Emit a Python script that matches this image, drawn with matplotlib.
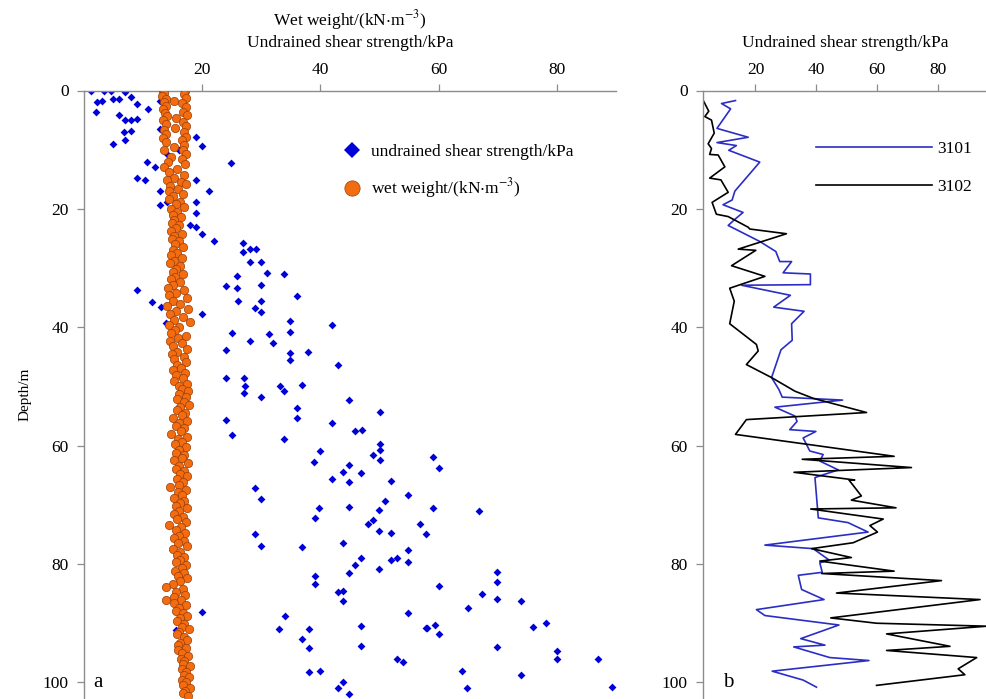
import matplotlib
matplotlib.use("Agg")
import matplotlib.pyplot as plt
from matplotlib.lines import Line2D

# ---- panel a: undrained shear strength (blue diamonds) ----
su_value = [
    1.2, 3.4, 4.5, 7.0, 3.1, 2.2, 4.9, 5.9, 7.9, 9.0, 2.0, 5.9, 7.0, 7.9, 9.0, 10.9, 12.9,
    6.7, 7.9, 6.9, 4.9, 12.9, 14.0, 18.9, 20.0, 14.0, 16.0, 24.9, 10.6, 12.0, 9.0, 10.4,
    12.9, 18.9, 21.1, 12.9, 14.0, 18.9, 18.9, 18.0, 19.0, 20.0, 22.0, 26.9, 26.9, 28.0, 29.1,
    28.0, 30.0, 30.9, 33.9, 25.9, 8.9, 11.5, 13.0, 24.0, 25.9, 30.0, 36.0, 26.0, 30.0, 28.9,
    30.0, 20.0, 13.8, 34.9, 42.0, 25.0, 28.0, 31.3, 32.0, 34.9, 24.0, 34.9, 34.9, 37.9, 43.0,
    24.0, 27.0, 27.2, 27.0, 33.1, 33.9, 36.9, 30.0, 44.9, 36.0, 36.0, 24.0, 42.0, 45.9, 47.0,
    25.0, 33.9, 39.9, 38.9, 44.9,
    50.0, 50.0, 50.0, 48.9, 50.0, 59.0, 60.0,
    43.9, 46.9, 42.0, 44.9, 51.9, 54.8, 29.0, 30.0, 39.8, 39.0, 44.9, 50.9, 49.9, 48.0, 48.9,
    49.9, 51.9, 56.9, 57.9, 29.0, 30.0, 36.9, 43.9, 46.9, 45.9, 44.9, 51.9, 52.9, 49.9, 54.8,
    54.8, 39.0, 39.0, 42.9, 43.9, 43.9, 20.0, 34.0, 33.0, 38.0, 36.9, 38.0, 46.9, 46.9, 54.8,
    57.9, 52.9, 53.9, 38.0, 40.0, 43.9, 42.9, 44.9,
    59.0, 66.8, 60.0, 69.9, 69.9, 67.4, 69.9, 73.9, 64.9, 58.0, 59.3, 60.0, 75.9, 78.2, 69.9,
    80.0, 80.0, 86.9, 64.0, 73.9, 64.8, 89.4, 15.5,
]
su_depth = [
    0.0, 0.0, 0.0, 0.2, 1.8, 1.9, 1.4, 1.4, 1.1, 2.3, 3.7, 4.1, 5.0, 5.0, 4.8, 3.1, 1.7,
    7.0, 6.8, 8.3, 9.1, 6.5, 5.7, 7.9, 9.3, 10.8, 10.1, 12.2, 12.1, 12.9, 14.8, 15.2,
    16.9, 15.1, 16.9, 19.3, 18.9, 18.8, 20.7, 22.7, 23.1, 24.2, 25.4, 25.7, 27.2, 26.8, 26.8,
    29.0, 29.0, 30.8, 31.0, 31.3, 33.7, 35.7, 36.6, 33.0, 33.3, 32.9, 34.7, 35.6, 35.6, 36.8,
    37.4, 37.8, 39.2, 38.9, 39.7, 41.0, 42.3, 41.1, 42.7, 40.8, 43.9, 44.3, 45.5, 44.1, 46.3,
    48.6, 48.5, 50.0, 51.1, 49.9, 50.7, 49.8, 51.8, 52.3, 53.6, 55.4, 55.7, 56.1, 57.5, 57.4,
    58.2, 58.9, 60.9, 62.8, 63.3,
    54.3, 59.7, 60.7, 61.5, 62.4, 61.9, 63.7,
    64.4, 64.6, 65.6, 66.2, 65.9, 68.4, 67.1, 69.0, 70.6, 72.2, 70.4, 69.3, 70.8, 73.2, 72.5,
    74.5, 74.7, 73.3, 74.9, 74.9, 77.0, 77.1, 76.5, 79.0, 80.2, 81.5, 79.4, 79.0, 80.9, 77.6,
    79.6, 82.0, 83.4, 84.8, 84.5, 86.3, 88.1, 88.8, 90.9, 90.9, 92.7, 94.2, 90.4, 93.8, 88.3,
    90.8, 96.0, 96.5, 98.2, 98.0, 100.0, 101.0, 102.0,
    70.5, 71.0, 83.7, 81.3, 83.1, 85.1, 85.9, 86.3, 87.5, 90.8, 90.3, 91.9, 90.7, 90.0, 94.0,
    94.7, 96.0, 96.1, 98.1, 98.8, 101.0, 100.8, 91.2,
]

# ---- panel a: wet weight (orange circles) ----
wet_value = [
    13.3, 17.1, 13.6, 16.9, 13.2, 17.2, 13.8, 15.3, 13.5, 16.6, 13.9, 17.3, 13.4, 16.8, 13.7,
    17.4, 14.0, 15.6, 13.3, 16.7, 13.8, 17.2, 15.4, 13.5, 16.9, 13.9, 17.3, 13.4, 16.6, 13.8,
    17.0, 15.2, 13.6, 16.8,
    17.3, 14.8, 16.5, 14.2, 17.1, 13.6, 15.8, 14.4, 16.9, 15.3, 14.1, 16.4, 17.2, 14.6, 15.9,
    14.3, 16.8, 15.0, 14.4, 16.2, 15.5, 16.9, 14.7,
    15.8, 15.0, 16.4, 15.3, 14.9, 16.1, 15.5, 14.8, 16.6, 15.2, 14.9, 16.0, 15.4, 16.7, 15.0,
    15.8, 14.8, 16.5, 15.3, 14.6, 16.2, 15.6, 15.0, 16.8, 15.4, 14.7, 16.3,
    15.1, 14.2, 16.9, 15.6, 14.4, 17.4, 15.0, 16.2, 14.0, 17.6, 15.5, 14.6, 16.8, 15.2, 17.9,
    14.3, 16.1, 15.4, 14.8, 17.2, 15.9, 14.5, 16.6, 15.1, 17.5, 15.7, 14.9, 16.9, 15.3, 17.3,
    15.8, 16.4, 15.0, 17.1, 15.6, 16.7, 15.2, 17.4, 16.0,
    16.5, 17.6, 16.0, 17.2, 15.8, 16.9, 17.7, 16.3, 15.7, 17.1, 16.6, 15.1, 17.4, 16.0, 15.5,
    17.0, 16.4, 14.8, 17.5, 15.9, 16.6, 15.4, 17.3, 16.1, 15.6, 17.0, 16.5, 15.2, 17.6, 16.0,
    15.6, 16.9, 16.3, 17.4, 15.8, 16.7, 16.1, 14.6, 17.2, 15.9, 16.5, 15.3,
    17.0, 16.2, 15.6, 17.5, 16.0, 15.2, 16.8, 15.8, 17.3, 14.4, 16.4, 15.6, 17.1, 16.0, 15.3,
    16.9, 15.9, 17.4, 15.1, 16.3, 15.7, 17.0, 16.2, 15.5, 17.2, 16.6, 15.4, 16.9, 15.9, 17.5,
    16.3, 15.0, 13.9, 16.7, 15.6, 17.1, 15.3, 13.8, 16.4, 15.2, 17.3, 16.0, 15.6, 16.8, 17.4,
    16.2,
    15.8, 17.0, 16.5, 17.8, 16.1, 15.7, 16.9, 17.5, 16.3, 15.9, 17.2, 15.9, 16.6, 17.6, 16.4,
    17.0, 16.8, 17.9, 16.6, 17.3, 16.9, 17.7, 16.5, 17.2, 16.8, 17.9, 17.1, 16.7, 17.6,
]
wet_depth = [
    0.0, 0.0, 0.4, 0.6, 0.9, 1.3, 1.5, 1.8, 2.0, 2.1, 2.6, 2.8, 3.2, 3.6, 3.8,
    4.2, 4.3, 4.6, 5.0, 5.3, 5.6, 6.0, 6.3, 6.6, 7.0, 7.3, 7.8, 8.0, 8.4, 8.7,
    9.2, 9.5, 10.0, 10.1,
    10.8, 11.3, 11.6, 12.0, 12.4, 12.9, 13.3, 13.8, 14.3, 14.8, 15.1, 15.4, 15.8, 16.2, 16.6,
    17.0, 17.5, 17.9, 18.4, 18.8, 19.2, 19.6, 20.0,
    20.5, 21.0, 21.4, 21.9, 22.4, 22.8, 23.3, 23.7, 24.2, 24.6, 25.1, 25.5, 26.0, 26.5, 26.9,
    27.4, 27.8, 28.3, 28.8, 29.2, 29.7, 30.1, 30.6, 31.0, 31.5, 31.9, 32.4,
    32.8, 33.3, 33.7, 34.2, 34.6, 35.1, 35.5, 36.0, 36.4, 36.9, 37.3, 37.8, 38.2, 38.7, 39.1,
    39.6, 40.0, 40.5, 40.9, 41.4, 41.8, 42.3, 42.7, 43.2, 43.6, 44.1, 44.5, 45.0, 45.4, 45.9,
    46.3, 46.8, 47.2, 47.7, 48.1, 48.6, 49.0, 49.5, 49.9,
    50.4, 50.8, 51.3, 51.7, 52.2, 52.6, 53.1, 53.5, 54.0, 54.4, 54.9, 55.3, 55.8, 56.2, 56.7,
    57.1, 57.6, 58.0, 58.5, 58.9, 59.4, 59.8, 60.3, 60.7, 61.2, 61.6, 62.1, 62.5, 63.0, 63.4,
    63.9, 64.3, 64.8, 65.2, 65.7, 66.1, 66.6, 67.0, 67.5, 67.9, 68.4, 68.8,
    69.3, 69.7, 70.2, 70.6, 71.1, 71.5, 72.0, 72.4, 72.9, 73.4, 73.8, 74.3, 74.7, 75.2, 75.6,
    76.1, 76.5, 77.0, 77.5, 77.9, 78.4, 78.8, 79.3, 79.7, 80.2, 80.6, 81.1, 81.5, 82.0, 82.4,
    82.9, 83.4, 83.8, 84.3, 84.7, 85.2, 85.6, 86.0, 86.1, 86.5, 87.0, 87.4, 87.9, 88.3, 88.8,
    89.2,
    89.7, 90.1, 90.6, 91.0, 91.5, 91.9, 92.4, 92.8, 93.3, 93.7, 94.2, 94.6, 95.1, 95.5, 96.0,
    96.4, 96.9, 97.3, 97.8, 98.2, 98.7, 99.1, 99.6, 100.0, 100.5, 100.9, 101.4, 101.8, 102.3,
]

# ---- panel b: boreholes 3101 / 3102 ----
b3101_value = [
    13.4, 8.8, 11.8, 7.3, 17.6, 7.3, 13.7, 11.2, 21.4, 13.2, 12.3, 9.3, 15.9, 12.9, 11.0,
    21.4, 26.7, 28.0, 31.9, 29.1, 38.1, 38.1, 15.4, 31.5, 26.0, 36.0, 31.9, 32.1, 28.4, 25.3,
    27.7, 28.8, 48.7, 26.4, 33.0, 33.7, 31.3, 39.9, 35.7, 37.9, 42.3, 41.2, 47.3, 41.2, 39.6,
    40.7, 50.5, 57.1, 23.1, 39.0, 44.2, 41.2, 42.0, 34.1, 35.2, 42.6, 20.3, 23.1, 47.5, 34.9,
    42.9, 32.6, 44.5, 57.4, 25.5, 35.7, 40.1,
]
b3101_depth = [
    1.7, 2.2, 3.1, 6.4, 7.9, 8.8, 9.3, 10.1, 12.1, 17.0, 18.5, 19.3, 20.6, 21.9, 22.8,
    25.5, 27.2, 28.9, 28.9, 30.8, 31.0, 32.8, 32.9, 34.6, 36.6, 37.3, 39.4, 42.2, 43.8, 48.5,
    50.5, 51.8, 52.3, 53.5, 55.0, 55.9, 57.3, 57.6, 58.7, 60.9, 61.5, 62.6, 64.1, 65.1, 65.4,
    72.2, 73.0, 74.6, 76.8, 77.4, 79.3, 79.8, 81.4, 81.9, 84.3, 86.0, 87.7, 88.7, 90.3, 92.6,
    93.7, 94.0, 95.8, 96.3, 98.1, 99.6, 100.8,
]
b3102_value = [
    2.7, 4.6, 3.3, 5.5, 6.4, 4.4, 5.5, 4.9, 7.7, 9.9, 4.9, 8.6, 11.0, 5.7, 7.1,
    11.0, 17.6, 18.1, 30.2, 14.3, 20.1, 12.1, 23.1, 11.5, 13.0, 11.5, 20.3, 20.9, 17.0, 25.3,
    33.0, 39.0, 56.6, 17.0, 13.4, 65.7, 35.4, 71.4, 32.7, 52.7, 50.8, 54.9, 51.6, 66.3, 38.2,
    62.1, 57.7, 60.2, 52.2, 38.5, 51.6, 41.2, 65.7, 41.8, 81.3, 46.7, 94.0, 44.8, 59.9, 96.3,
    63.2, 84.1, 63.2, 92.9, 86.8, 89.0, 59.9,
]
b3102_depth = [
    1.6, 3.5, 4.4, 5.0, 7.2, 9.0, 9.8, 10.8, 10.9, 12.9, 14.8, 15.1, 17.2, 18.9, 20.9,
    21.3, 23.1, 23.4, 24.2, 26.8, 27.0, 29.6, 31.4, 33.4, 35.6, 39.4, 42.9, 44.0, 46.3, 48.5,
    50.8, 52.0, 54.4, 55.6, 58.1, 61.8, 62.3, 63.7, 64.5, 65.8, 65.8, 68.5, 69.2, 70.5, 70.7,
    72.4, 73.5, 74.6, 76.4, 77.4, 78.9, 79.5, 81.2, 81.6, 82.8, 84.9, 86.0, 89.1, 90.0, 90.5,
    91.8, 93.9, 94.6, 95.8, 97.7, 98.7, 100.5,
]

depth_ticks = [0, 20, 40, 60, 80, 100]
x_ticks = [20, 40, 60, 80]

BLUE = "#0000D8"
ORANGE = "#F36C10"
LINE_BLUE = "#2A2EC4"
SPINE = "#8C8C8C"

plt.rcParams.update(
    {
        "font.family": "Liberation Serif",
        "mathtext.fontset": "stix",
        "font.size": 12.5,
    }
)


def _style_axis(ax):
    ax.xaxis.tick_top()
    ax.xaxis.set_label_position("top")
    ax.spines["right"].set_visible(False)
    ax.spines["bottom"].set_visible(False)
    for side in ("left", "top"):
        ax.spines[side].set_color(SPINE)
        ax.spines[side].set_linewidth(1.0)
    ax.tick_params(axis="both", direction="out", length=5, width=0.9, color=SPINE,
                   labelsize=12.5, labelcolor="black")
    ax.tick_params(axis="x", pad=4)
    ax.tick_params(axis="y", pad=6)
    ax.set_xticks(x_ticks)
    ax.set_yticks(depth_ticks)


fig = plt.figure(figsize=(9.87, 6.99), dpi=100)
H = 608.5 / 699

# panel a
ax_a = fig.add_axes([84 / 987, 0, (616 - 84) / 987, H])
ax_a.scatter(su_value, su_depth, marker="D", s=16, color=BLUE, linewidths=0, zorder=2)
ax_a.scatter(wet_value, wet_depth, marker="o", s=36, color=ORANGE, edgecolors="#9A3E08",
             linewidths=0.5, zorder=3)
ax_a.set_xlim(0, 90)
ax_a.set_ylim(102.8, 0)
_style_axis(ax_a)
ax_a.set_xlabel("Wet weight/(kN$\\cdot$m$^{-3}$)\nUndrained shear strength/kPa",
                fontsize=12.5, labelpad=10.5, linespacing=1.3)
ax_a.set_ylabel("Depth/m", fontsize=11, labelpad=8)
ax_a.text(0.018, 0.012, "a", transform=ax_a.transAxes, fontsize=15, va="bottom", ha="left")

legend_handles = [
    Line2D([], [], linestyle="none", marker="D", markersize=8.5, color=BLUE, markeredgewidth=0),
    Line2D([], [], linestyle="none", marker="o", markersize=11, color=ORANGE,
           markeredgecolor="#9A3E08", markeredgewidth=0.5),
]
ax_a.legend(legend_handles, ["undrained shear strength/kPa", "wet weight/(kN$\\cdot$m$^{-3}$)"],
            loc="upper left", bbox_to_anchor=(333 / 987, 1 - 135 / 699),
            bbox_transform=fig.transFigure, frameon=False, borderpad=0,
            handlelength=1.2, handletextpad=0.5, labelspacing=0.95, fontsize=12.5)

# panel b
ax_b = fig.add_axes([703 / 987, 0, (987 - 703) / 987, H])
ax_b.plot(b3101_value, b3101_depth, color=LINE_BLUE, linewidth=1.2, label="3101")
ax_b.plot(b3102_value, b3102_depth, color="black", linewidth=1.2, label="3102")
ax_b.set_xlim(2.7, 96.3)
ax_b.set_ylim(102.8, 0)
_style_axis(ax_b)
ax_b.set_xlabel("Undrained shear strength/kPa", fontsize=12.5, labelpad=10.5)
ax_b.text(0.07, 0.012, "b", transform=ax_b.transAxes, fontsize=15, va="bottom", ha="left")
ax_b.legend(loc="upper left", bbox_to_anchor=(807 / 987, 1 - 132 / 699),
            bbox_transform=fig.transFigure, frameon=False, borderpad=0,
            handlelength=6.7, handletextpad=0.3, labelspacing=1.25, fontsize=12.5)

fig.savefig("out.png", dpi=100)
